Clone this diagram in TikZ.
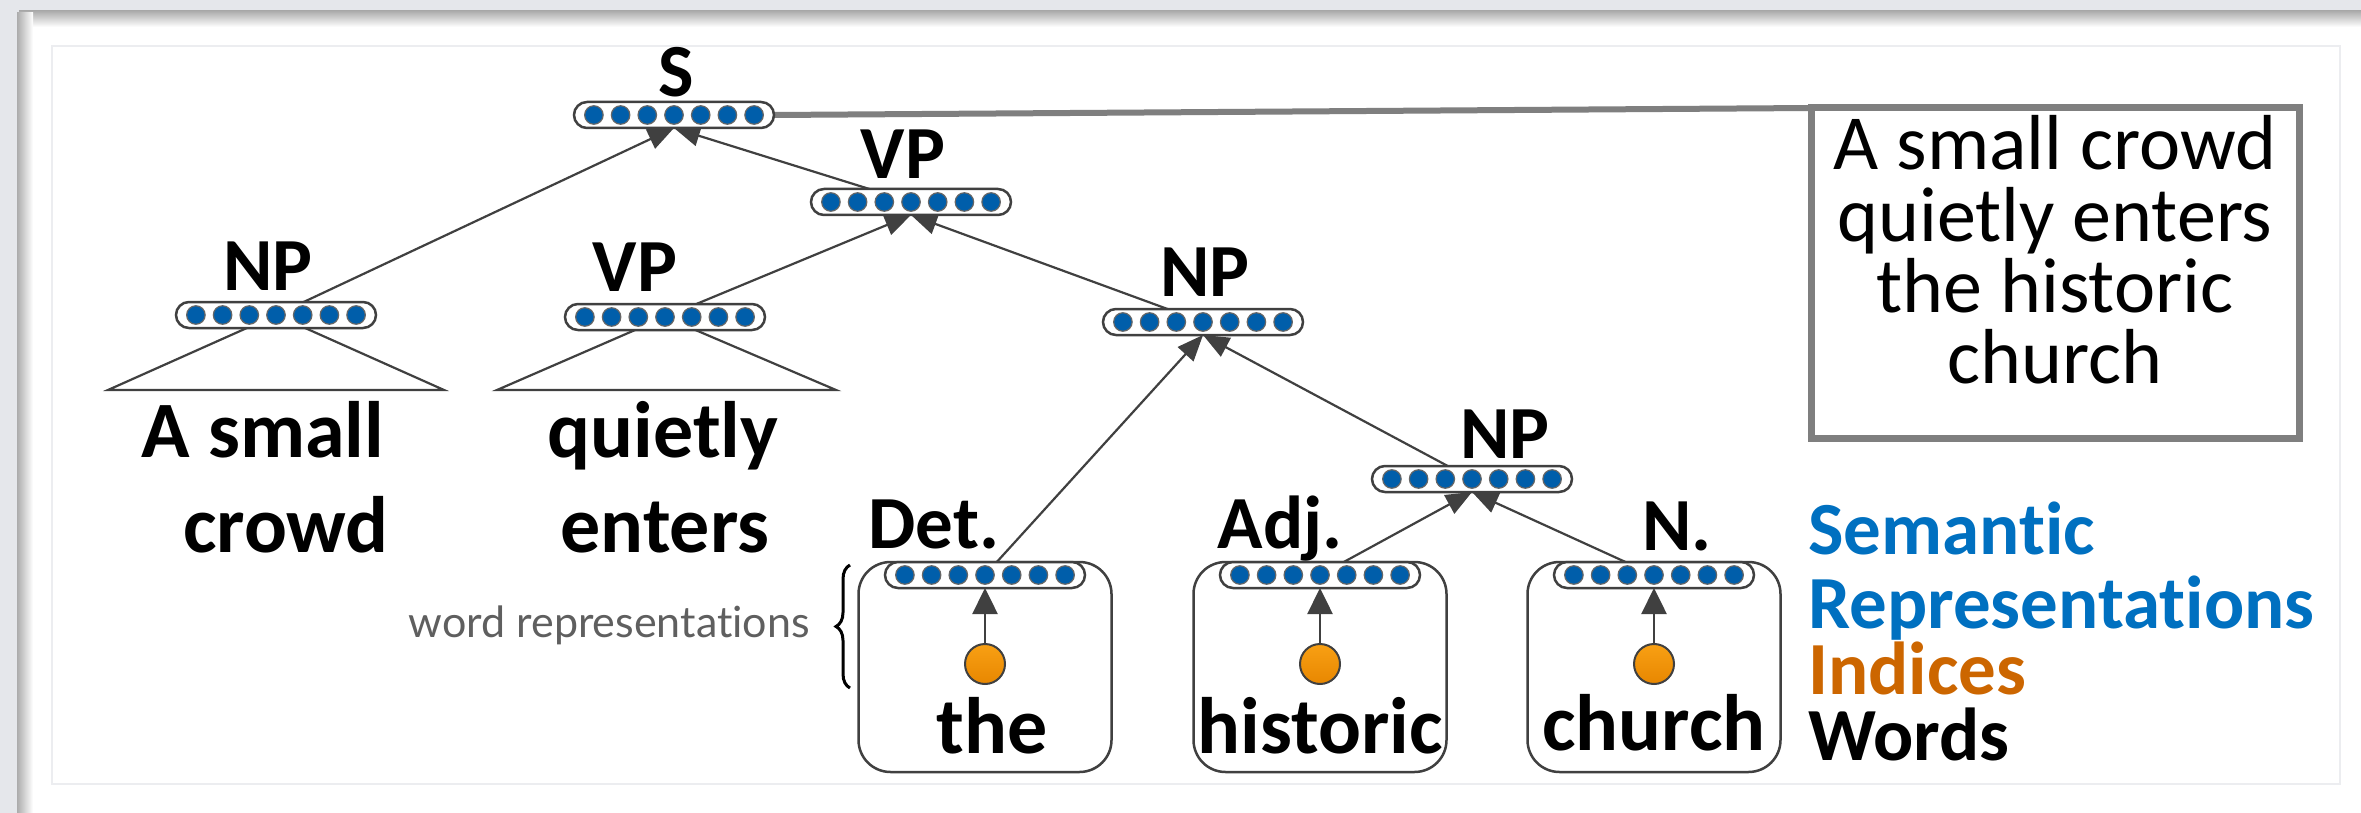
\documentclass[tikz,border=0pt]{standalone}
\usepackage{fontspec}
\setmainfont{Carlito}[Ligatures=NoCommon]
\newfontfamily\wrfont{Lato}[Ligatures=NoCommon]
\usetikzlibrary{arrows.meta,decorations.pathreplacing}
\pgfdeclarelayer{back}
\pgfdeclarelayer{lines}
\pgfsetlayers{back,lines,main}
\definecolor{bggray}{RGB}{229,231,235}
\definecolor{dk}{RGB}{64,64,64}
\definecolor{dotblue}{RGB}{0,94,170}
\definecolor{semblue}{RGB}{0,112,192}
\definecolor{indorange}{RGB}{204,102,0}
\definecolor{orlight}{RGB}{248,160,20}
\definecolor{ordark}{RGB}{232,135,0}
\definecolor{boxgray}{RGB}{127,127,127}
\definecolor{wrgray}{RGB}{95,95,95}
\definecolor{innerline}{RGB}{236,237,240}
\tikzset{
  vecbox/.style={draw=dk, line width=2.5pt, fill=white, rounded corners=13pt,
    minimum width=200pt, minimum height=26pt, inner sep=0pt, outer sep=0pt},
  bluedot/.style={circle, fill=dotblue, draw=dk!80, line width=1.2pt,
    minimum size=18.5pt, inner sep=0pt},
  lbl/.style={font=\fontsize{75}{80}\selectfont\bfseries, anchor=base, inner sep=0pt},
  wrd/.style={font=\fontsize{80}{90}\selectfont\bfseries, anchor=base, inner sep=0pt},
  sent/.style={font=\fontsize{78}{80}\selectfont, anchor=base, inner sep=0pt},
  legend/.style={font=\fontsize{75}{66}\selectfont\bfseries, align=left,
    anchor=north west, inner sep=0pt},
  arr/.style={draw=dk, line width=2.2pt, -{Triangle[length=26pt,width=21pt]}},
  arrv/.style={draw=dk, line width=2.5pt, -{Triangle[length=26pt,width=25pt]}},
  tri/.style={draw=dk, line width=2.2pt},
  wbox/.style={draw=dk, line width=2.5pt, rounded corners=32pt,
    minimum width=253pt, minimum height=210pt, inner sep=0pt},
  idx/.style={circle, draw=dk, line width=2pt, top color=orlight, bottom color=ordark,
    minimum size=40pt, inner sep=0pt},
}
\newcommand\vecat[3]{%
  \node[vecbox] (#1) at (#2,#3) {};
  \foreach \k in {-3,...,3}{\node[bluedot] at ({#2+\k*26.7},#3) {};}%
}
\begin{document}
\begin{tikzpicture}[x=1pt,y=-1pt]
\useasboundingbox (0,0) rectangle (2361,813);
\begin{pgfonlayer}{back}
  \fill[bggray] (0,0) rectangle (2361,813);
  \fill[white, rounded corners=5pt] (17,11) rectangle (2400,850);
  \shade[top color=gray!65, bottom color=white] (19,11) rectangle (2361,27);
  \shade[left color=gray!65, right color=white] (17,13) rectangle (33,813);
  \draw[innerline, line width=2pt] (52,46) rectangle (2340,784);
\end{pgfonlayer}

% word boxes
\node[wbox] (b1) at (985,667) {};
\node[wbox] (b2) at (1320,667) {};
\node[wbox] (b3) at (1654,667) {};

% vectors
\vecat{vS}{674}{115}
\vecat{vVPa}{911}{202}
\vecat{vNPa}{276}{315}
\vecat{vVPb}{665}{317}
\vecat{vNPb}{1203}{322}
\vecat{vNPc}{1472}{479}
\vecat{vDet}{985}{575}
\vecat{vAdj}{1320}{575}
\vecat{vN}{1654}{575}

% index circles
\node[idx] (c1) at (985,664) {};
\node[idx] (c2) at (1320,664) {};
\node[idx] (c3) at (1654,664) {};

% labels
\node[lbl] (lS) at (676,97) {S};
\node[lbl] (lVPa) at (903,179) {VP};
\node[lbl] (lNPa) at (268,290) {NP};
\node[lbl] (lVPb) at (635,291) {VP};
\node[lbl] (lNPb) at (1205,296) {NP};
\node[lbl] (lNPc) at (1505,458) {NP};
\node[lbl] (lDet) at (934,548) {Det.};
\node[lbl] (lAdj) at (1280,548) {Adj.};
\node[lbl] (lN) at (1677,550) {N.};

% words
\node[wrd] (wa1) at (263,457) {A small};
\node[wrd] (wa2) at (286,552) {crowd};
\node[wrd] (wb1) at (663,457) {quietly};
\node[wrd] (wb2) at (665,552) {enters};
\node[wrd] (w1) at (992,753) {the};
\node[wrd] (w2) at (1320,753) {historic};
\node[wrd] (w3) at (1654,750) {church};

% sentence box
\node[draw=boxgray, line width=7pt, minimum width=488pt, minimum height=330pt,
  inner sep=0pt, outer sep=0pt] (sbox) at (2055,273) {};
\node[sent] (s1) at (2055,170) {A small crowd};
\node[sent] (s2) at (2055,241) {quietly enters};
\node[sent] (s3) at (2055,312) {the historic};
\node[sent] (s4) at (2055,383) {church};

% legend
\node[legend] (leg) at (1808,502) {%
  \textcolor{semblue}{Semantic}\\[8pt]
  \textcolor{semblue}{Representations}\\
  \textcolor{indorange}{Indices}\\
  \textcolor{black}{Words}};

% word representations
\node[font=\wrfont\fontsize{43}{50}\selectfont, text=wrgray, anchor=base east, inner sep=0pt]
  (wr) at (810,637) {word representations};
\coordinate (brt) at (850,565);
\coordinate (brb) at (850,688);
\draw[black, line width=3pt, decorate, decoration={brace, amplitude=14pt}] (brb) -- (brt);

% triangle corners
\coordinate (ta1) at (108,390);
\coordinate (ta2) at (444,390);
\coordinate (tb1) at (497,390);
\coordinate (tb2) at (836,390);

\begin{pgfonlayer}{lines}
  \draw[tri] (ta1) -- (ta2) -- (vNPa.center) -- cycle;
  \draw[tri] (tb1) -- (tb2) -- (vVPb.center) -- cycle;
  \draw[arr] (vNPa.center) -- (vS.south);
  \draw[arr] (vVPa.center) -- (vS.south);
  \draw[arr] (vVPb.center) -- (vVPa.south);
  \draw[arr] (vNPb.center) -- (vVPa.south);
  \draw[arr] (vDet.center) -- (vNPb.south);
  \draw[arr] (vNPc.center) -- (vNPb.south);
  \draw[arr] (vAdj.center) -- (vNPc.south);
  \draw[arr] (vN.center) -- (vNPc.south);
  \draw[arrv] (c1.north) -- (vDet.south);
  \draw[arrv] (c2.north) -- (vAdj.south);
  \draw[arrv] (c3.north) -- (vN.south);
  \draw[boxgray, line width=6pt] (vS.east) -- (sbox.north west);
\end{pgfonlayer}
\end{tikzpicture}
\end{document}
